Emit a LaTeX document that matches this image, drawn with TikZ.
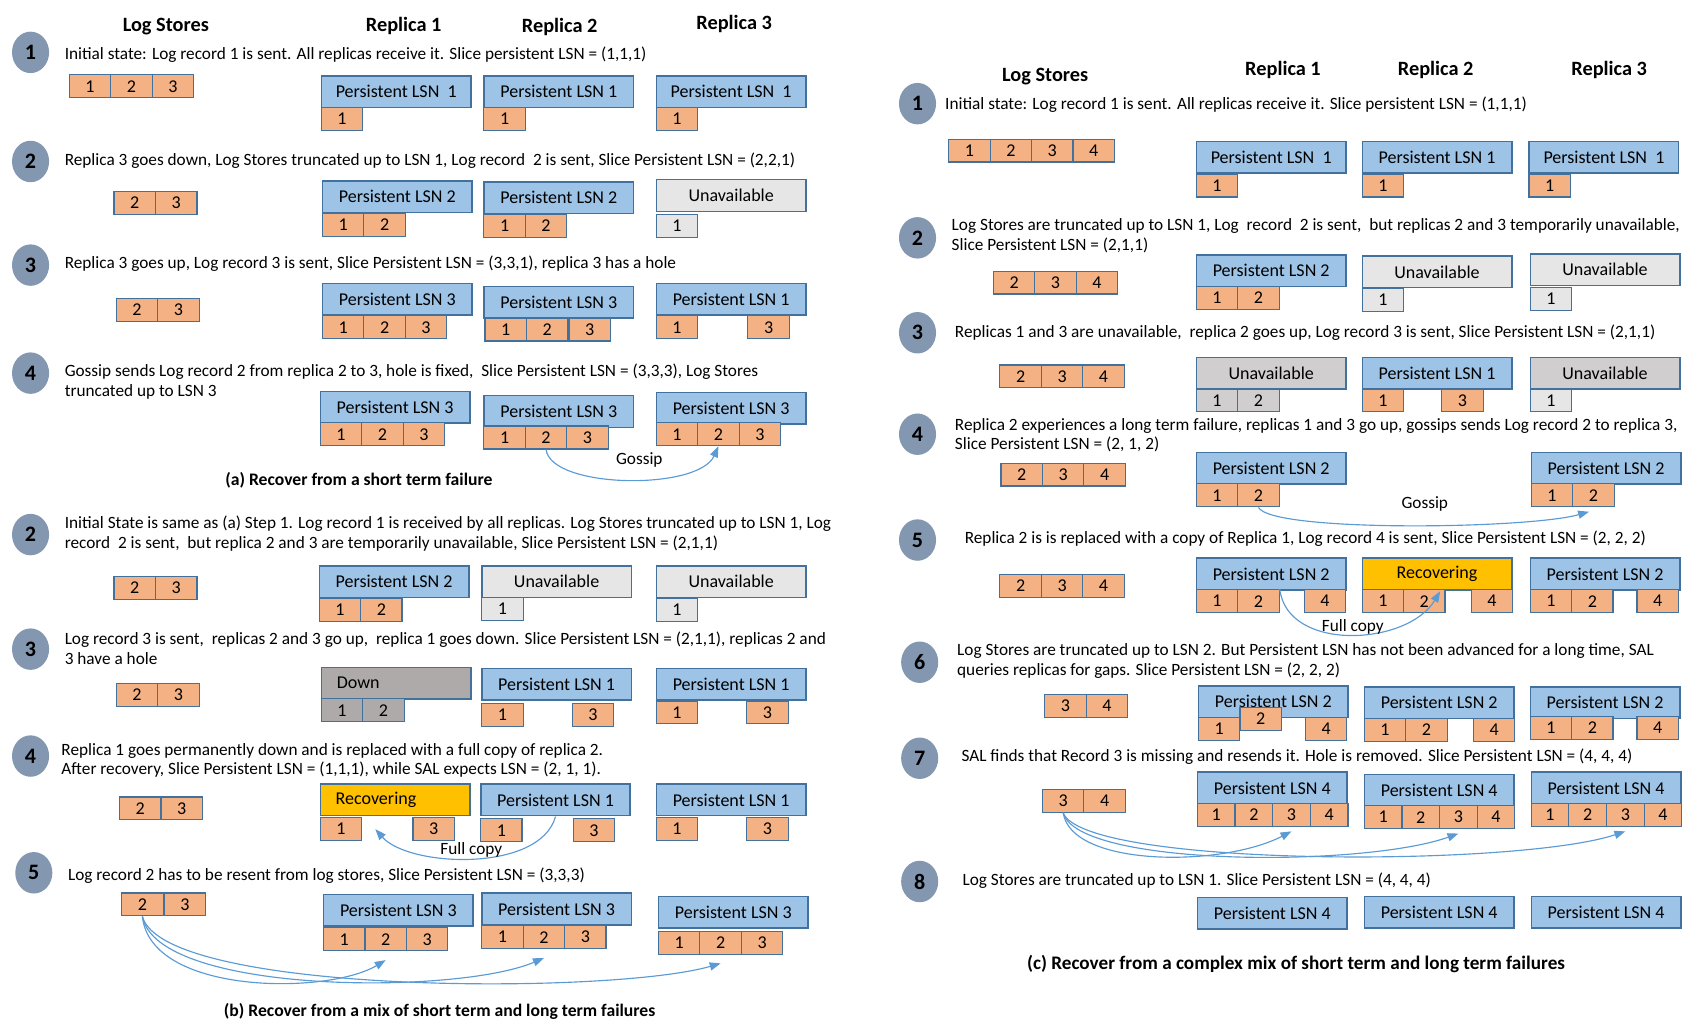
\documentclass[tikz,border=0pt]{standalone}
\usepackage{fontspec}
\setmainfont{Carlito}
\usetikzlibrary{arrows.meta,calc,shapes.geometric}
\definecolor{lsnblue}{HTML}{9DC3E6}
\definecolor{edgeblue}{HTML}{41719C}
\definecolor{recorange}{HTML}{F4B183}
\definecolor{unavgray}{HTML}{E7E6E6}
\definecolor{midgray}{HTML}{D0CECE}
\definecolor{downgray}{HTML}{AEAAAA}
\definecolor{recovyellow}{HTML}{FFC000}
\definecolor{stepgray}{HTML}{8497B0}
\definecolor{arrowblue}{HTML}{5B9BD5}
\tikzset{
  rec/.style={draw=edgeblue, fill=recorange, line width=0.6pt, anchor=north west, inner sep=0pt,
    minimum width=0.76cm, minimum height=0.42cm, font=\fontsize{9.4}{10}\selectfont},
  rec4/.style={rec, minimum width=0.69cm},
  hole/.style={rec, fill=unavgray},
  midcell/.style={rec, fill=midgray},
  gone/.style={rec, fill=downgray},
  lsn/.style={draw=edgeblue, fill=lsnblue, line width=0.8pt, anchor=north west, inner sep=0pt,
    minimum width=2.74cm, minimum height=0.58cm, font=\fontsize{9.4}{10}\selectfont},
  unav/.style={lsn, fill=unavgray},
  unavdark/.style={lsn, fill=midgray},
  downbox/.style={lsn, fill=downgray, text width=2.18cm, inner xsep=0.28cm, align=left},
  recovl/.style={downbox, fill=recovyellow},
  recov/.style={lsn, fill=recovyellow},
  stepno/.style={ellipse, fill=stepgray, minimum width=0.68cm, minimum height=0.76cm, inner sep=0pt,
    font=\bfseries\fontsize{11.5}{11.5}\selectfont},
  says/.style={anchor=west, inner sep=0pt, align=left, font=\fontsize{9}{10.2}\selectfont},
  colhead/.style={font=\bfseries\fontsize{10.6}{12}\selectfont},
  figcap/.style={font=\bfseries\fontsize{9.2}{11}\selectfont},
  arrtag/.style={font=\fontsize{9}{10}\selectfont},
  send/.style={draw=arrowblue, line width=0.6pt, -{Triangle[length=0.2cm,width=0.15cm]}}
}
\newcommand\cellrow[4][rec]{\foreach \cx/\cv [count=\ci] in {#4} {\node[#1] (#2-\ci) at (\cx,#3) {\cv};}}
\begin{document}
\begin{tikzpicture}[x=0.02cm, y=-0.02cm]
\useasboundingbox (0,0) rectangle (1561,934);
\node[colhead] (a-hlog) at (152,24) {Log Stores};
\node[colhead] (a-hr1) at (370,24) {Replica 1};
\node[colhead] (a-hr2) at (513,25) {Replica 2};
\node[colhead] (a-hr3) at (673,22) {Replica 3};

\node[stepno] (a1) at (28,48) {1};
\node[says] (a1-txt) at (59,50) {Initial state: Log record 1 is sent. All replicas receive it. Slice persistent LSN = (1,1,1)};
\cellrow{a1-log}{68}{63/1,101/2,139/3}
\node[lsn] (a1-r1) at (294,69) {Persistent LSN\ \ 1};
\cellrow{a1-r1}{98}{294/1}
\node[lsn] (a1-r2) at (443,69) {Persistent LSN 1};
\cellrow{a1-r2}{98}{443/1}
\node[lsn] (a1-r3) at (601,69) {Persistent LSN\ \ 1};
\cellrow{a1-r3}{98}{601/1}

\node[stepno] (a2) at (28,148) {2};
\node[says] (a2-txt) at (59,147) {Replica 3 goes down, Log Stores truncated up to LSN 1, Log record\ \ 2 is sent, Slice Persistent LSN = (2,2,1)};
\cellrow{a2-log}{175}{104/2,142/3}
\node[lsn] (a2-r1) at (295,165) {Persistent LSN 2};
\cellrow{a2-r1}{195}{295/1,333/2}
\node[lsn] (a2-r2) at (443,166) {Persistent LSN 2};
\cellrow{a2-r2}{196}{443/1,481/2}
\node[unav] (a2-r3) at (601,164) {Unavailable};
\cellrow[hole]{a2-r3}{196}{601/1}

\node[stepno] (a3) at (28,243) {3};
\node[says] (a3-txt) at (59,242) {Replica 3 goes up, Log record 3 is sent, Slice Persistent LSN = (3,3,1), replica 3 has a hole};
\cellrow{a3-log}{273}{106/2,144/3}
\node[lsn] (a3-r1) at (295,259) {Persistent LSN 3};
\cellrow{a3-r1}{289}{295/1,333/2,371/3}
\node[lsn] (a3-r2) at (443,262) {Persistent LSN 3};
\cellrow{a3-r2}{291}{444/1,482/2,521/3}
\node[lsn] (a3-r3) at (601,259) {Persistent LSN 1};
\cellrow{a3-r3}{289}{601/1,685/3}

\node[stepno] (a4) at (28,342) {4};
\node[says] (a4-txt) at (59,350) {Gossip sends Log record 2 from replica 2 to 3, hole is fixed,\ \ Slice Persistent LSN = (3,3,3), Log Stores\\truncated up to LSN 3};
\node[lsn] (a4-r1) at (293,358) {Persistent LSN 3};
\cellrow{a4-r1}{387}{293/1,331/2,369/3}
\node[lsn] (a4-r2) at (443,362) {Persistent LSN 3};
\cellrow{a4-r2}{390}{443/1,481/2,519/3}
\node[lsn] (a4-r3) at (601,359) {Persistent LSN 3};
\cellrow{a4-r3}{387}{601/1,639/2,677/3}
\draw[send] (a4-r2-2.south) .. controls (505,448) and (640,450) .. (a4-r3-2.south);
\node[arrtag] (a4-gossip) at (586,422) {Gossip};
\node[figcap] (a-cap) at (329,440) {(a) Recover from a short term failure};

\node[stepno] (b2) at (28,490) {2};
\node[says] (b2-txt) at (59,489) {Initial State is same as (a) Step 1. Log record 1 is received by all replicas. Log Stores truncated up to LSN 1, Log\\record\ \ 2 is sent,\ \ but replica 2 and 3 are temporarily unavailable, Slice Persistent LSN = (2,1,1)};
\cellrow{b2-log}{528}{104/2,142/3}
\node[lsn] (b2-r1) at (292,518) {Persistent LSN 2};
\cellrow{b2-r1}{548}{292/1,330/2}
\node[unav] (b2-r2) at (441,518) {Unavailable};
\cellrow[hole]{b2-r2}{547}{441/1}
\node[unav] (b2-r3) at (601,518) {Unavailable};
\cellrow[hole]{b2-r3}{548}{601/1}

\node[stepno] (b3) at (28,595) {3};
\node[says] (b3-txt) at (59,594) {Log record 3 is sent,\ \ replicas 2 and 3 go up,\ \ replica 1 goes down. Slice Persistent LSN = (2,1,1), replicas 2 and\\3 have a hole};
\cellrow{b3-log}{626}{106/2,144/3}
\node[downbox] (b3-r1) at (294,611) {Down};
\cellrow[gone]{b3-r1}{640}{294/1,332/2}
\node[lsn] (b3-r2) at (441,612) {Persistent LSN 1};
\cellrow{b3-r2}{644}{441/1,524/3}
\node[lsn] (b3-r3) at (601,612) {Persistent LSN 1};
\cellrow{b3-r3}{642}{601/1,684/3}

\node[stepno] (b4) at (28,693) {4};
\node[says] (b4-txt) at (56,697) {Replica 1 goes permanently down and is replaced with a full copy of replica 2.\\After recovery, Slice Persistent LSN = (1,1,1), while SAL expects LSN = (2, 1, 1).};
\cellrow{b4-log}{730}{109/2,147/3}
\node[recovl] (b4-r1) at (293,718) {Recovering};
\cellrow{b4-r1}{749}{293/1,378/3}
\node[lsn] (b4-r2) at (440,718) {Persistent LSN 1};
\cellrow{b4-r2}{750}{440/1,525/3}
\node[lsn] (b4-r3) at (601,718) {Persistent LSN 1};
\cellrow{b4-r3}{749}{601/1,684/3}
\draw[send] (b4-r2.south) .. controls (495,800) and (375,795) .. ($(b4-r1-1.east)+(12,0)$);
\node[arrtag] (b4-copy) at (432,779) {Full copy};

\node[stepno] (b5) at (31,800) {5};
\node[says] (b5-txt) at (62,803) {Log record 2 has to be resent from log stores, Slice Persistent LSN = (3,3,3)};
\cellrow{b5-log}{818}{111/2,150/3}
\node[lsn] (b5-r1) at (296,819) {Persistent LSN 3};
\cellrow{b5-r1}{850}{296/1,334/2,372/3}
\node[lsn] (b5-r2) at (441,818) {Persistent LSN 3};
\cellrow{b5-r2}{848}{441/1,479/2,517/3}
\node[lsn] (b5-r3) at (603,821) {Persistent LSN 3};
\cellrow{b5-r3}{853}{603/1,641/2,679/3}
\foreach \r/\a/\b in {r1/138/300, r2/144/420, r3/150/560}
  \draw[send] (b5-log-1.south) .. controls (\a,912) and (\b,912) .. ($(b5-\r-2.south)+(0,8)$);
\node[figcap] (b-cap) at (403,927) {(b) Recover from a mix of short term and long term failures};

\node[colhead] (c-hlog) at (958,70) {Log Stores};
\node[colhead] (c-hr1) at (1176,64) {Replica 1};
\node[colhead] (c-hr2) at (1316,64) {Replica 2};
\node[colhead] (c-hr3) at (1475,64) {Replica 3};

\node[stepno] (c1) at (841,95) {1};
\node[says] (c1-txt) at (866,96) {Initial state: Log record 1 is sent. All replicas receive it. Slice persistent LSN = (1,1,1)};
\cellrow{c1-log}{127}{869/1,907/2,945/3,983/4}
\node[lsn] (c1-r1) at (1096,129) {Persistent LSN\ \ 1};
\cellrow{c1-r1}{159}{1096/1}
\node[lsn] (c1-r2) at (1248,129) {Persistent LSN 1};
\cellrow{c1-r2}{159}{1248/1}
\node[lsn] (c1-r3) at (1401,129) {Persistent LSN\ \ 1};
\cellrow{c1-r3}{159}{1401/1}

\node[stepno] (c2) at (841,218) {2};
\node[says] (c2-txt) at (872,216) {Log Stores are truncated up to LSN 1, Log\ \ record\ \ 2 is sent,\ \ but replicas 2 and 3 temporarily unavailable,\\Slice Persistent LSN = (2,1,1)};
\cellrow{c2-log}{248}{910/2,948/3,986/4}
\node[lsn] (c2-r1) at (1096,233) {Persistent LSN 2};
\cellrow{c2-r1}{262}{1096/1,1134/2}
\node[unav] (c2-r2) at (1248,234) {Unavailable};
\cellrow[hole]{c2-r2}{264}{1248/1}
\node[unav] (c2-r3) at (1402,232) {Unavailable};
\cellrow[hole]{c2-r3}{263}{1402/1}

\node[stepno] (c3) at (841,305) {3};
\node[says] (c3-txt) at (875,305) {Replicas 1 and 3 are unavailable,\ \ replica 2 goes up, Log record 3 is sent, Slice Persistent LSN = (2,1,1)};
\cellrow{c3-log}{334}{916/2,954/3,992/4}
\node[unavdark] (c3-r1) at (1096,327) {Unavailable};
\cellrow[midcell]{c3-r1}{356}{1096/1,1134/2}
\node[lsn] (c3-r2) at (1248,327) {Persistent LSN 1};
\cellrow{c3-r2}{356}{1248/1,1321/3}
\node[unavdark] (c3-r3) at (1402,327) {Unavailable};
\cellrow[hole]{c3-r3}{356}{1402/1}

\node[stepno] (c4) at (841,398) {4};
\node[says] (c4-txt) at (875,399) {Replica 2 experiences a long term failure, replicas 1 and 3 go up, gossips sends Log record 2 to replica 3,\\Slice Persistent LSN = (2, 1, 2)};
\cellrow{c4-log}{424}{917/2,955/3,993/4}
\node[lsn] (c4-r1) at (1096,414) {Persistent LSN 2};
\cellrow{c4-r1}{443}{1096/1,1134/2}
\node[lsn] (c4-r3) at (1403,414) {Persistent LSN 2};
\cellrow{c4-r3}{443}{1403/1,1441/2}
\draw[send] (c4-r1-2.south) .. controls (1165,488) and (1400,485) .. ($(c4-r3-2.south)+(-4,4)$);
\node[arrtag] (c4-gossip) at (1306,462) {Gossip};

\node[stepno] (c5) at (841,495) {5};
\node[says] (c5-txt) at (884,494) {Replica 2 is is replaced with a copy of Replica 1, Log record 4 is sent, Slice Persistent LSN = (2, 2, 2)};
\cellrow{c5-log}{526}{916/2,954/3,992/4}
\node[lsn] (c5-r1) at (1096,511) {Persistent LSN 2};
\cellrow{c5-r1}{540}{1096/1,1134/2,1195/4}
\node[recov] (c5-r2) at (1248,511) {Recovering};
\cellrow{c5-r2}{540}{1248/1,1286/2,1348/4}
\node[lsn] (c5-r3) at (1402,511) {Persistent LSN 2};
\cellrow{c5-r3}{540}{1402/1,1440/2,1500/4}
\draw[send] (c5-r1-2.north east) .. controls (1180,598) and (1290,592) .. ($(c5-r2-2.north east)+(-5,2)$);
\node[arrtag] (c5-copy) at (1240,575) {Full copy};

\node[stepno] (c6) at (843,607) {6};
\node[says] (c6-txt) at (877,606) {Log Stores are truncated up to LSN 2. But Persistent LSN has not been advanced for a long time, SAL\\queries replicas for gaps. Slice Persistent LSN = (2, 2, 2)};
\cellrow{c6-log}{636}{957/3,995/4}
\node[lsn] (c6-r1) at (1098,628) {Persistent LSN 2};
\node[rec] (c6-r1-1) at (1098,657) {1};
\node[rec] (c6-r1-2) at (1136,648) {2};
\node[rec] (c6-r1-3) at (1196,657) {4};
\node[lsn] (c6-r2) at (1250,629) {Persistent LSN 2};
\cellrow{c6-r2}{658}{1250/1,1288/2,1350/4}
\node[lsn] (c6-r3) at (1402,629) {Persistent LSN 2};
\cellrow{c6-r3}{656}{1402/1,1440/2,1500/4}

\node[stepno] (c7) at (843,695) {7};
\node[says] (c7-txt) at (881,694) {SAL finds that Record 3 is missing and resends it. Hole is removed. Slice Persistent LSN = (4, 4, 4)};
\cellrow{c7-log}{723}{955/3,993/4}
\node[lsn] (c7-r1) at (1097,707) {Persistent LSN 4};
\cellrow[rec4]{c7-r1}{736}{1097/1,1131.5/2,1166/3,1200.5/4}
\node[lsn] (c7-r2) at (1250,709) {Persistent LSN 4};
\cellrow[rec4]{c7-r2}{738}{1250/1,1284.5/2,1319/3,1353.5/4}
\node[lsn] (c7-r3) at (1403,707) {Persistent LSN 4};
\cellrow[rec4]{c7-r3}{736}{1403/1,1437.5/2,1472/3,1506.5/4}
\foreach \r/\a/\b in {r1/982/1120, r2/988/1250, r3/994/1390}
  \draw[send] (c7-log-1.south) .. controls (\a,795) and (\b,795) .. ($(c7-\r-3.south)+(0,4)$);

\node[stepno] (c8) at (843,808) {8};
\node[says] (c8-txt) at (882,807) {Log Stores are truncated up to LSN 1. Slice Persistent LSN = (4, 4, 4)};
\node[lsn] (c8-r1) at (1097,822) {Persistent LSN 4};
\node[lsn] (c8-r2) at (1250,821) {Persistent LSN 4};
\node[lsn] (c8-r3) at (1403,821) {Persistent LSN 4};
\node[figcap, font=\bfseries\fontsize{10}{12}\selectfont] (c-cap) at (1188,884) {(c) Recover from a complex mix of short term and long term failures};
\end{tikzpicture}
\end{document}
